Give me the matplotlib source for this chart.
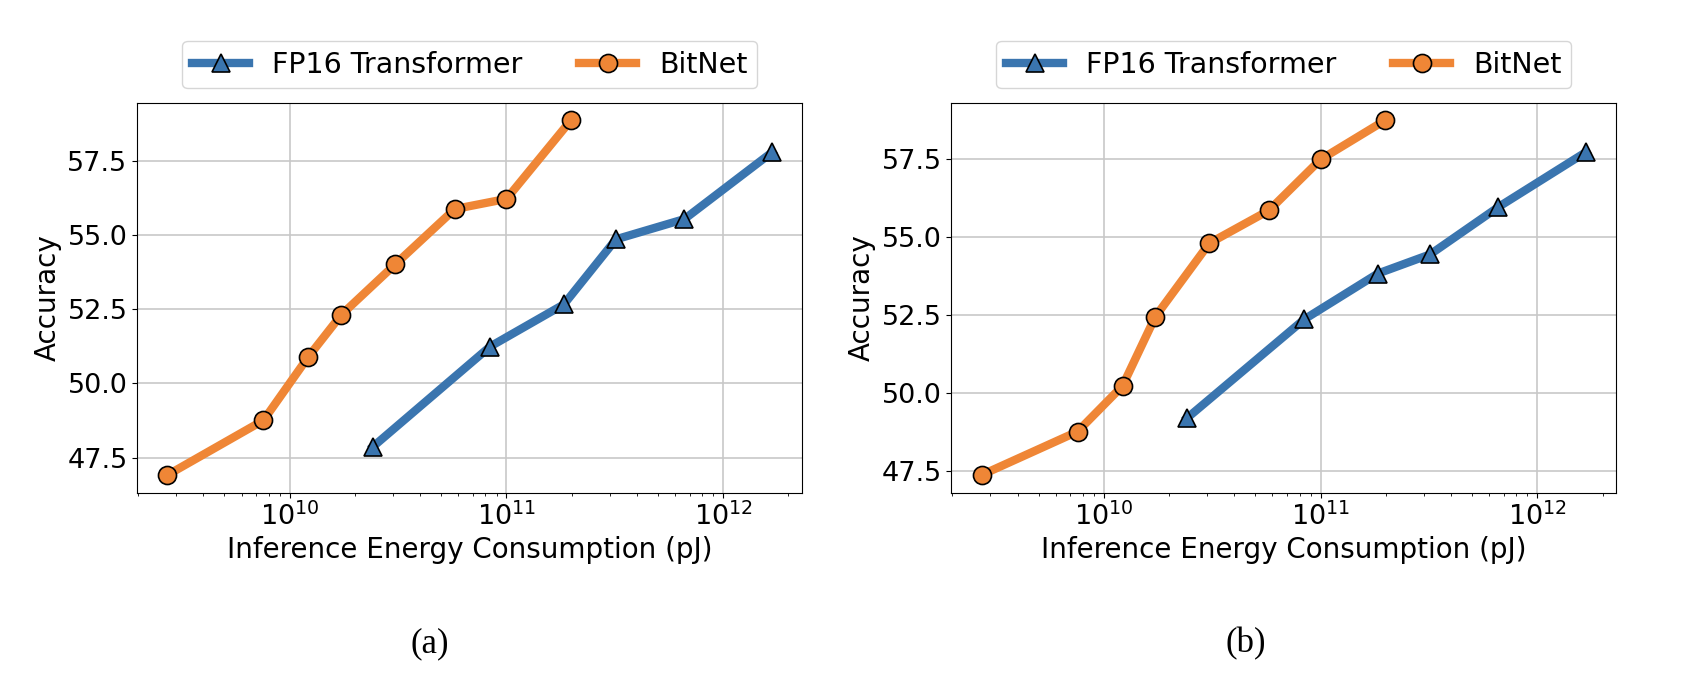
import numpy as np
import matplotlib
matplotlib.use('Agg')
import matplotlib.pyplot as plt

# energy (pJ) and accuracy
fp16_energy = [2.42e10, 8.4e10, 1.84e11, 3.2e11, 6.62e11, 1.68e12]
bitnet_energy = [2.73e9, 7.57e9, 1.22e10, 1.73e10, 3.07e10, 5.78e10, 1.0e11, 1.98e11]

fp16_acc_a = [47.87, 51.24, 52.66, 54.85, 55.53, 57.78]
bitnet_acc_a = [46.92, 48.76, 50.90, 52.31, 54.01, 55.87, 56.21, 58.85]

fp16_acc_b = [49.20, 52.36, 53.83, 54.44, 55.96, 57.72]
bitnet_acc_b = [47.38, 48.77, 50.23, 52.45, 54.80, 55.85, 57.48, 58.73]

captions = ['(a)', '(b)']

blue = '#3a75af'
orange = '#ef8636'

fig = plt.figure(figsize=(16.82, 6.78), dpi=100)
ax_a = fig.add_axes([0.0816, 0.2733, 0.3954, 0.5752])
ax_b = fig.add_axes([0.5656, 0.2733, 0.3954, 0.5752])

panels = [(ax_a, fp16_acc_a, bitnet_acc_a), (ax_b, fp16_acc_b, bitnet_acc_b)]

for ax, fp16_acc, bitnet_acc in panels:
    ax.plot(fp16_energy, fp16_acc, color=blue, lw=6, marker='^', markersize=13,
            markeredgecolor='black', markeredgewidth=1.2, label='FP16 Transformer')
    ax.plot(bitnet_energy, bitnet_acc, color=orange, lw=6, marker='o', markersize=13,
            markeredgecolor='black', markeredgewidth=1.2, label='BitNet')
    ax.set_xscale('log')
    ax.set_yticks([47.5, 50.0, 52.5, 55.0, 57.5])
    ax.grid(True, which='major', color='#c8c8c8', lw=1.2)
    ax.tick_params(axis='both', labelsize=19.5)
    ax.set_xlabel('Inference Energy Consumption (pJ)', fontsize=20)
    ax.set_ylabel('Accuracy', fontsize=20)
    ax.legend(loc='lower center', bbox_to_anchor=(0.5, 1.0), ncol=2, fontsize=20.5,
              handlelength=2.0, columnspacing=2.0, borderpad=0.35, borderaxespad=0.5)

fig.text(0.2556, 0.05, captions[0], ha='center', va='center',
         family='Liberation Serif', fontsize=25)
fig.text(0.7405, 0.05, captions[1], ha='center', va='center',
         family='Liberation Serif', fontsize=25)

fig.savefig('out.png', dpi=100)
